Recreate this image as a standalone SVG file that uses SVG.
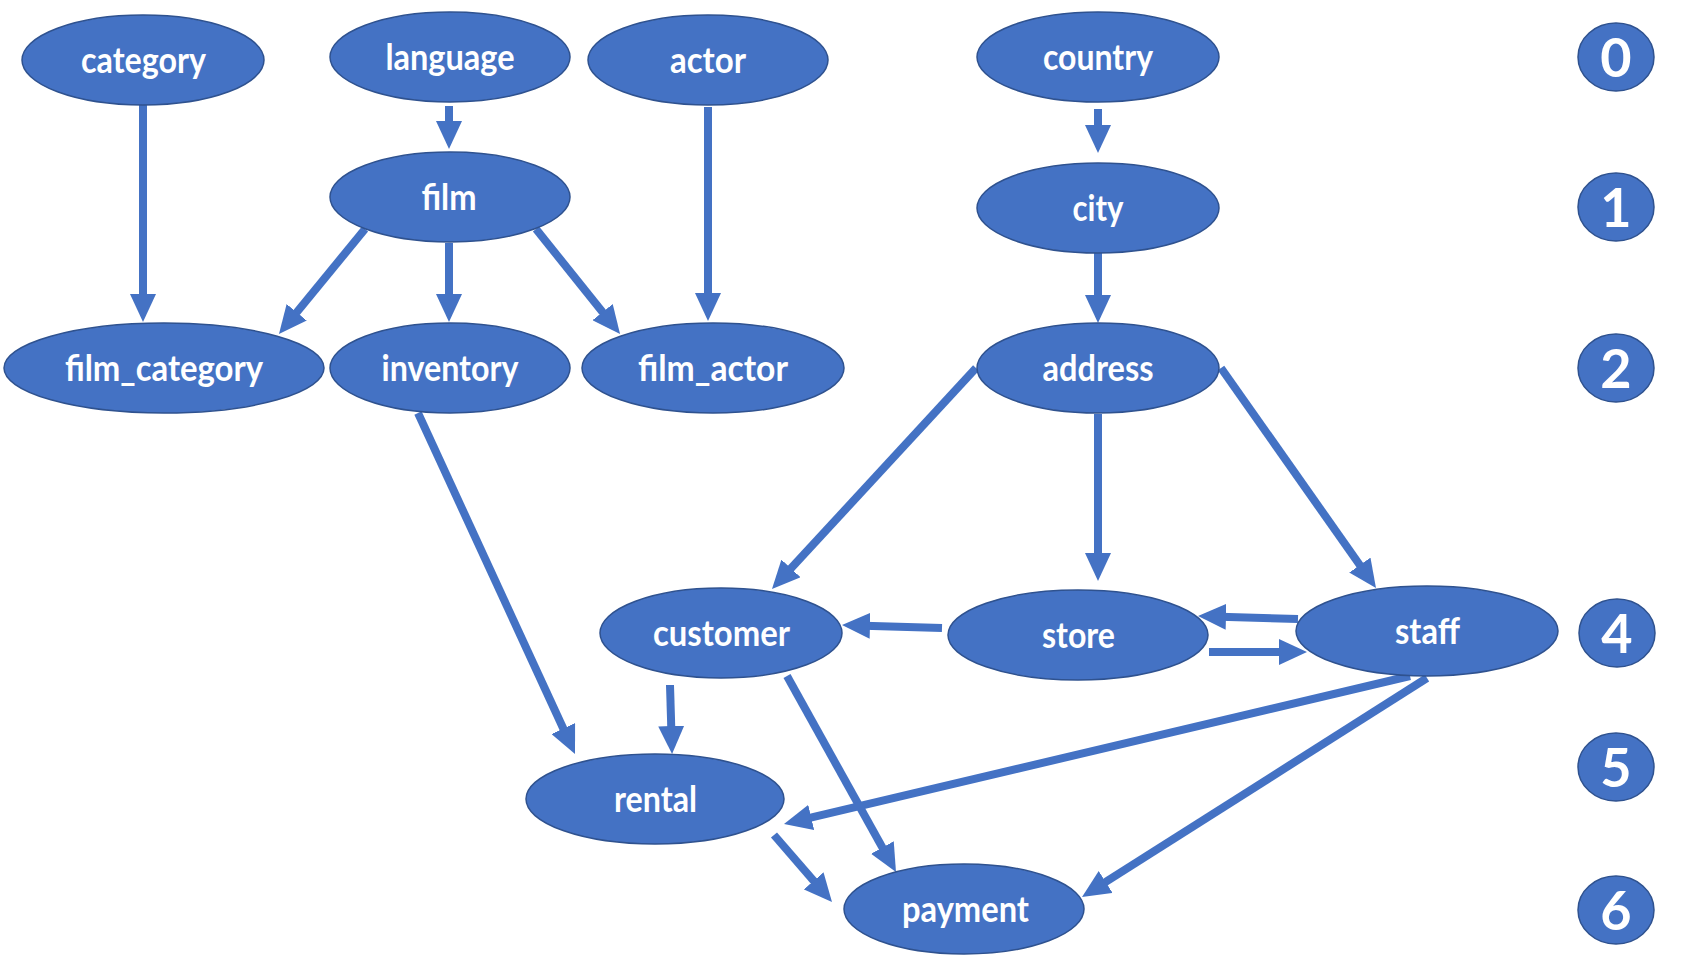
<svg xmlns="http://www.w3.org/2000/svg" width="1682" height="960" viewBox="0 0 1682 960">
<style>
.node ellipse{fill:#4472C4;stroke:#2F528F;stroke-width:1.5}
.node text{font-family:Lato,"Open Sans","Liberation Sans",sans-serif;font-weight:bold;font-size:36px;fill:#fff;text-anchor:middle}
.lvl ellipse{fill:#4472C4;stroke:#2F528F;stroke-width:1.5}
.lvl text{font-family:Lato,"Open Sans","Liberation Sans",sans-serif;font-weight:bold;font-size:54px;fill:#fff;text-anchor:middle}
.edges line{stroke:#4472C4;stroke-width:8;fill:none;marker-end:url(#ah)}
</style>
<defs>
<marker id="ah" viewBox="0 0 28 26" refX="6" refY="13" markerWidth="28" markerHeight="26" markerUnits="userSpaceOnUse" orient="auto">
<path d="M0,0 L28,13 L0,26 Z" fill="#4472C4"/>
</marker>
</defs>
<rect width="1682" height="960" fill="#fff"/>
<g class="edges" id="connectors">
<line x1="143" y1="105" x2="143" y2="300"/>
<line x1="449" y1="106" x2="449" y2="127"/>
<line x1="365" y1="229" x2="292.9" y2="317"/>
<line x1="449" y1="243" x2="449" y2="300"/>
<line x1="536" y1="229" x2="606.3" y2="316.8"/>
<line x1="708" y1="107" x2="708" y2="299"/>
<line x1="1098" y1="109" x2="1098" y2="131"/>
<line x1="1098" y1="253" x2="1098" y2="301"/>
<line x1="976" y1="368" x2="786.9" y2="572.8"/>
<line x1="1098" y1="414" x2="1098" y2="559"/>
<line x1="1221" y1="368" x2="1363.3" y2="570"/>
<line x1="942" y1="628" x2="864" y2="625.7"/>
<line x1="1298" y1="619" x2="1220" y2="616.7"/>
<line x1="1209" y1="652" x2="1285" y2="652"/>
<line x1="670" y1="685" x2="671.4" y2="732"/>
<line x1="787" y1="676" x2="885.3" y2="852.8"/>
<line x1="418" y1="413" x2="565.8" y2="734"/>
<line x1="1410" y1="676" x2="805.4" y2="818.9"/>
<line x1="1427" y1="678" x2="1100.6" y2="885.2"/>
<line x1="774" y1="835" x2="817.6" y2="885.4"/>
</g>
<g class="node" id="category"><ellipse cx="143" cy="60" rx="121" ry="45"/><text x="143.5" y="73" textLength="125" lengthAdjust="spacingAndGlyphs">category</text></g>
<g class="node" id="language"><ellipse cx="450" cy="57" rx="120" ry="45"/><text x="450" y="70" textLength="129" lengthAdjust="spacingAndGlyphs">language</text></g>
<g class="node" id="actor"><ellipse cx="708" cy="60" rx="120" ry="45"/><text x="708" y="73" textLength="76" lengthAdjust="spacingAndGlyphs">actor</text></g>
<g class="node" id="country"><ellipse cx="1098" cy="57" rx="121" ry="45"/><text x="1098" y="70" textLength="110" lengthAdjust="spacingAndGlyphs">country</text></g>
<g class="node" id="film"><ellipse cx="450" cy="197" rx="120" ry="45"/><text x="449" y="210" textLength="55" lengthAdjust="spacingAndGlyphs">film</text></g>
<g class="node" id="city"><ellipse cx="1098" cy="208" rx="121" ry="45"/><text x="1098" y="221" textLength="51" lengthAdjust="spacingAndGlyphs">city</text></g>
<g class="node" id="film_category"><ellipse cx="164" cy="368" rx="160" ry="45"/><text x="164" y="381" textLength="198" lengthAdjust="spacingAndGlyphs">film_category</text></g>
<g class="node" id="inventory"><ellipse cx="450" cy="368" rx="120" ry="45"/><text x="450" y="381" textLength="137" lengthAdjust="spacingAndGlyphs">inventory</text></g>
<g class="node" id="film_actor"><ellipse cx="713" cy="368" rx="131" ry="45"/><text x="713" y="381" textLength="150" lengthAdjust="spacingAndGlyphs">film_actor</text></g>
<g class="node" id="address"><ellipse cx="1098" cy="368" rx="121" ry="45"/><text x="1098" y="381" textLength="111" lengthAdjust="spacingAndGlyphs">address</text></g>
<g class="node" id="customer"><ellipse cx="721" cy="633" rx="121" ry="45"/><text x="721.5" y="646" textLength="137" lengthAdjust="spacingAndGlyphs">customer</text></g>
<g class="node" id="store"><ellipse cx="1078" cy="635" rx="130" ry="45"/><text x="1078.5" y="648" textLength="73" lengthAdjust="spacingAndGlyphs">store</text></g>
<g class="node" id="staff"><ellipse cx="1427" cy="631" rx="131" ry="45"/><text x="1427.5" y="644" textLength="65" lengthAdjust="spacingAndGlyphs">staff</text></g>
<g class="node" id="rental"><ellipse cx="655" cy="799" rx="129" ry="45"/><text x="655.5" y="812" textLength="83" lengthAdjust="spacingAndGlyphs">rental</text></g>
<g class="node" id="payment"><ellipse cx="964" cy="909" rx="120" ry="45"/><text x="965.5" y="922" textLength="127" lengthAdjust="spacingAndGlyphs">payment</text></g>
<g class="lvl" id="level0"><ellipse cx="1616" cy="57" rx="38" ry="34"/><text x="1616" y="77">0</text></g>
<g class="lvl" id="level1"><ellipse cx="1616" cy="207" rx="38" ry="34"/><text x="1616" y="227">1</text></g>
<g class="lvl" id="level2"><ellipse cx="1616" cy="368" rx="38" ry="34"/><text x="1616" y="388">2</text></g>
<g class="lvl" id="level4"><ellipse cx="1617" cy="633" rx="38" ry="34"/><text x="1617" y="653">4</text></g>
<g class="lvl" id="level5"><ellipse cx="1616" cy="767" rx="38" ry="34"/><text x="1616" y="787">5</text></g>
<g class="lvl" id="level6"><ellipse cx="1616" cy="910" rx="38" ry="34"/><text x="1616" y="930">6</text></g>
</svg>
